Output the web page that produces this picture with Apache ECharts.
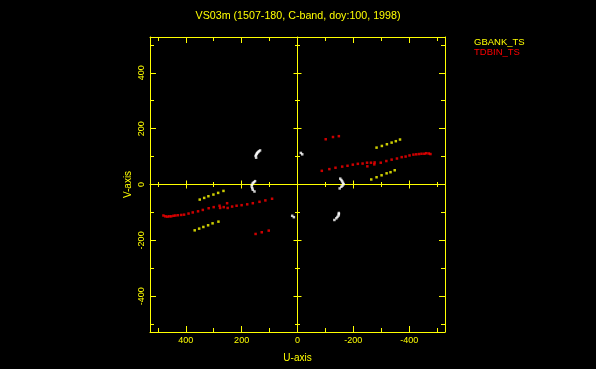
<!DOCTYPE html>
<html>
<head>
<meta charset="utf-8">
<script src="https://cdn.jsdelivr.net/npm/echarts@6/dist/echarts.min.js"></script>
<style>
html,body{margin:0;padding:0;background:#000;}
#c{width:596px;height:369px;}
</style>
</head>
<body>
<div id="c"></div>
<script>
// ---- data (u, v) ----
const titleText = 'VS03m (1507-180, C-band, doy:100, 1998)';
const seriesNames = ['GBANK_TS', 'TDBIN_TS'];
const majorTicks = [-400, -200, 0, 200, 400];
const minorTicks = [-500, -300, -100, 100, 300, 500];

const gbankTS = [
  [350,-54],[334,-48],[319,-42],[301,-36],[284,-30],[265,-23],
  [368,-164],[352,-158],[337,-152],[320,-146],[304,-139],[283,-133],
  [-283,132],[-302,138],[-320,144],[-337,150],[-352,155],[-367,161],
  [-264,18],[-283,26],[-301,33],[-319,40],[-333,44],[-348,51]
];
const tdbinTS = [
  [480,-111],[473,-114],[466,-115],[459,-114],[452,-114],[444,-112],[437,-111],
  [428,-110],[416,-109],[406,-108],[390,-104],[375,-100],[356,-96],[339,-91],
  [318,-85],[300,-81],[279,-76],[277,-84],[264,-81],[252,-67],[250,-84],
  [234,-79],[218,-76],[200,-74],[180,-71],[160,-67],[136,-62],[115,-57],[91,-51],
  [150,-177],[128,-171],[103,-165],
  [-87,49],[-114,55],[-136,60],[-160,64],[-179,67],[-198,71],[-216,74],[-233,75],
  [-250,65],[-249,78],[-263,78],[-276,79],[-275,72],[-298,78],[-318,84],[-337,89],
  [-356,93],[-373,98],[-387,100],[-401,104],[-415,107],[-425,108],[-435,109],
  [-444,110],[-454,110],[-461,112],[-470,111],[-476,109],
  [-101,162],[-127,170],[-148,173]
];
const otherTS = [
  [134,122],[138,119],[141,116],[144,113],[146,110],[148,106],[150,102],[148,96],
  [152,12],[156,8],[160,5],[163,-1],[164,-7],[162,-13],[160,-19],[154,-25],
  [-12,113],[-17,108],
  [19,-112],[13,-117],
  [-153,21],[-157,16],[-160,11],[-163,6],[-165,1],[-161,-4],[-157,-8],[-151,-14],
  [-148,-102],[-148,-106],[-147,-111],[-143,-116],[-139,-121],[-132,-127]
];

// ---- styling ----
const Y = '#ffff00';
const FONT = 'Liberation Sans';
const LIM = 528;

function axis(dim, pos, o) {
  const a = {
    type: 'value', gridIndex: 0, position: pos,
    min: -LIM, max: LIM, inverse: dim === 'x',
    splitLine: {show: false},
    axisLabel: {show: false},
    axisTick: {show: false},
    axisLine: {show: !!o.line, onZero: !!o.zero, lineStyle: {color: Y, width: 1}}
  };
  if (o.zero) a.axisLine.onZeroAxisIndex = 0;
  if (o.ticks) {
    a.axisTick = {show: true, inside: !!o.inside, length: o.len,
      customValues: o.ticks, lineStyle: {color: Y, width: 1}};
  }
  return a;
}

const xAxes = [
  axis('x', 'bottom', {line: true, ticks: majorTicks, len: 6, inside: true}),
  axis('x', 'bottom', {ticks: minorTicks, len: 4, inside: true}),
  axis('x', 'top', {line: true, ticks: majorTicks, len: 6, inside: true}),
  axis('x', 'top', {ticks: minorTicks, len: 4, inside: true}),
  axis('x', 'bottom', {zero: true, line: true, ticks: majorTicks, len: 4}),
  axis('x', 'bottom', {zero: true, ticks: minorTicks, len: 2.5}),
  axis('x', 'top', {zero: true, ticks: majorTicks, len: 4}),
  axis('x', 'top', {zero: true, ticks: minorTicks, len: 2.5})
];
xAxes[0].axisLabel = {show: true, customValues: majorTicks, color: Y, fontSize: 9,
  fontFamily: FONT, margin: 4};
xAxes[0].name = 'U-axis';
xAxes[0].nameLocation = 'middle';
xAxes[0].nameGap = 21;
xAxes[0].nameTextStyle = {color: Y, fontSize: 10, fontFamily: FONT};

const yAxes = [
  axis('y', 'left', {line: true, ticks: majorTicks, len: 6, inside: true}),
  axis('y', 'left', {ticks: minorTicks, len: 4, inside: true}),
  axis('y', 'right', {line: true, ticks: majorTicks, len: 6, inside: true}),
  axis('y', 'right', {ticks: minorTicks, len: 4, inside: true}),
  axis('y', 'left', {zero: true, line: true, ticks: majorTicks, len: 4}),
  axis('y', 'left', {zero: true, ticks: minorTicks, len: 2.5}),
  axis('y', 'right', {zero: true, ticks: majorTicks, len: 4}),
  axis('y', 'right', {zero: true, ticks: minorTicks, len: 2.5})
];
yAxes[0].axisLabel = {show: true, customValues: majorTicks, color: Y, fontSize: 9,
  fontFamily: FONT, margin: 4, rotate: 90};
yAxes[0].name = 'V-axis';
yAxes[0].nameLocation = 'middle';
yAxes[0].nameGap = 17;
yAxes[0].nameTextStyle = {color: Y, fontSize: 10, fontFamily: FONT};

function scatter(name, data, color) {
  return {
    type: 'scatter', name: name, data: data,
    xAxisIndex: 0, yAxisIndex: 0,
    symbol: 'rect', symbolSize: 2.5,
    itemStyle: {color: color},
    silent: true
  };
}

const chart = echarts.init(document.getElementById('c'), null, {renderer: 'canvas'});
chart.setOption({
  backgroundColor: '#000',
  animation: false,
  title: {
    text: titleText, left: 'center', top: 11, padding: 0,
    textStyle: {color: Y, fontSize: 10.7, fontWeight: 'normal', fontFamily: FONT}
  },
  legend: {
    orient: 'vertical', left: 469, top: 37, padding: 0, itemGap: 0,
    itemWidth: 0, itemHeight: 0, icon: 'none', selectedMode: false,
    textStyle: {fontSize: 9.5, fontFamily: FONT, lineHeight: 10},
    data: [
      {name: seriesNames[0], textStyle: {color: '#ffff00'}},
      {name: seriesNames[1], textStyle: {color: '#ff0000'}}
    ]
  },
  grid: {left: 150, top: 37, width: 295, height: 295},
  xAxis: xAxes,
  yAxis: yAxes,
  series: [
    scatter(seriesNames[0], gbankTS, '#ffff00'),
    scatter(seriesNames[1], tdbinTS, '#ff0000'),
    scatter('other', otherTS, '#ffffff')
  ]
});
</script>
</body>
</html>
